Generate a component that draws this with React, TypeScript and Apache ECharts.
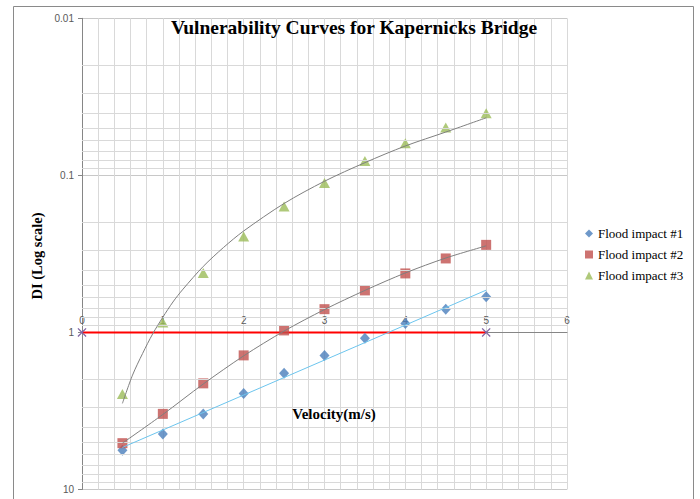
import React, { useEffect, useRef } from "react";
import * as echarts from "echarts";

const velocity = [0.5, 1, 1.5, 2, 2.5, 3, 3.5, 4, 4.5, 5];
const impact1 = [5.62, 4.44, 3.31, 2.45, 1.82, 1.4, 1.09, 0.877, 0.711, 0.593];
const impact2 = [5.07, 3.3, 2.11, 1.4, 0.971, 0.711, 0.54, 0.421, 0.338, 0.277];
const impact3 = [2.47, 0.864, 0.419, 0.245, 0.158, 0.112, 0.0811, 0.0625, 0.0495, 0.0403];

const trend1X = [0.5, 5];
const trend1Y = [5.4, 0.538];
const trend2X = [0.5, 1, 1.5, 2, 2.5, 3, 3.5, 4, 4.5, 5];
const trend2Y = [5.07, 3.33, 2.13, 1.41, 0.98, 0.715, 0.54, 0.418, 0.336, 0.281];
const trend3X = [0.5, 0.625, 0.75, 0.875, 1, 1.125, 1.25, 1.5, 1.75, 2, 2.5, 3, 3.5, 4, 4.5, 5];
const trend3Y = [2.83, 1.87, 1.36, 1.02, 0.8, 0.64, 0.53, 0.38, 0.288, 0.226, 0.151, 0.109, 0.083, 0.065, 0.053, 0.043];

const refX = [0, 5];
const refY = [1, 1];

const minorY = [
  0.02, 0.03, 0.04, 0.05, 0.06, 0.07, 0.08, 0.09,
  0.2, 0.3, 0.4, 0.5, 0.6, 0.7, 0.8, 0.9,
  2, 3, 4, 5, 6, 7, 8, 9,
];

const seriesNames = ["Flood impact #1", "Flood impact #2", "Flood impact #3"];

const zip = (xs: number[], ys: number[]) => xs.map((x, i) => [x, ys[i]]);

const X_PATH = "path://M0,1L1,0L5,4L9,0L10,1L6,5L10,9L9,10L5,6L1,10L0,9L4,5Z";

export default function App() {
  const ref = useRef<HTMLDivElement>(null);
  useEffect(() => {
    if (!ref.current) return;
    const chart = echarts.init(ref.current, null, { renderer: "svg" });
    const gridTop = 18.3;
    const gridBottom = 9.5;
    const gridH = 499 - gridTop - gridBottom;
    const serif = "Liberation Serif";
    const sans = "Liberation Sans";
    chart.setOption({
      animation: false,
      backgroundColor: "#ffffff",
      grid: { left: 82, right: 133, top: gridTop, bottom: gridBottom, containLabel: false },
      legend: {
        orient: "vertical",
        left: 580,
        top: 222,
        itemWidth: 8,
        itemHeight: 8,
        itemGap: 8,
        textStyle: { fontFamily: serif, fontSize: 13, color: "#000" },
        data: [
          { name: seriesNames[0], icon: "diamond" },
          { name: seriesNames[1], icon: "rect" },
          { name: seriesNames[2], icon: "triangle" },
        ],
      },
      xAxis: {
        type: "value",
        min: 0,
        max: 6,
        interval: 1,
        position: "top",
        offset: -(gridH * 2) / 3,
        axisLine: { show: true, lineStyle: { color: "#868686", width: 1 } },
        axisTick: { show: false },
        axisLabel: { color: "#595959", fontSize: 10, fontFamily: sans, margin: 7 },
        splitLine: { show: true, lineStyle: { color: "#d9d9d9", width: 1 } },
        minorTick: { show: false, splitNumber: 5 },
        minorSplitLine: { show: true, lineStyle: { color: "#d9d9d9", width: 1 } },
      },
      yAxis: {
        type: "log",
        logBase: 10,
        min: 0.01,
        max: 10,
        splitNumber: 3,
        inverse: true,
        axisLine: { show: true, lineStyle: { color: "#868686", width: 1 } },
        axisTick: { show: true, length: 4, lineStyle: { color: "#868686" } },
        axisLabel: {
          color: "#595959",
          fontSize: 10,
          fontFamily: sans,
          margin: 8,
          formatter: (v: number) => String(Number(v.toPrecision(3))),
        },
        splitLine: { show: true, lineStyle: { color: "#c8c8c8", width: 1 } },
      },
      graphic: [
        {
          type: "rect",
          shape: { x: 13.5, y: 6.5, width: 680, height: 520 },
          style: { fill: "none", stroke: "#8a8a8a", lineWidth: 1 },
          silent: true,
          z: -10,
        },
        {
          type: "text",
          x: 354,
          y: 27,
          style: {
            text: "Vulnerability Curves for Kapernicks Bridge",
            font: `bold 19.5px "${serif}"`,
            fill: "#000",
            align: "center",
            verticalAlign: "middle",
          },
          z: 10,
        },
        {
          type: "text",
          x: 334,
          y: 414,
          style: {
            text: "Velocity(m/s)",
            font: `bold 15px "${serif}"`,
            fill: "#000",
            align: "center",
            verticalAlign: "middle",
          },
          z: 10,
        },
        {
          type: "text",
          x: 37,
          y: 256,
          rotation: Math.PI / 2,
          style: {
            text: "DI (Log scale)",
            font: `bold 14.5px "${serif}"`,
            fill: "#000",
            align: "center",
            verticalAlign: "middle",
          },
          z: 10,
        },
      ],
      series: [
        {
          name: "minor-grid",
          type: "line",
          data: [[0, 1]],
          symbol: "none",
          lineStyle: { opacity: 0 },
          silent: true,
          z: 0,
          markLine: {
            silent: true,
            symbol: ["none", "none"],
            label: { show: false },
            lineStyle: { color: "#d9d9d9", width: 1, type: "solid" },
            emphasis: { disabled: true },
            data: minorY.map((v) => ({ yAxis: v })),
          },
        },
        {
          name: "reference",
          type: "line",
          data: zip(refX, refY),
          symbol: X_PATH,
          symbolSize: 9,
          itemStyle: { color: "#8064a2" },
          lineStyle: { color: "#ff0000", width: 2 },
          z: 3,
        },
        {
          name: seriesNames[0],
          type: "scatter",
          data: zip(velocity, impact1),
          symbol: "diamond",
          symbolSize: [10, 11],
          itemStyle: { color: "#4a7ebb" },
          z: 4,
        },
        {
          name: seriesNames[1],
          type: "scatter",
          data: zip(velocity, impact2),
          symbol: "rect",
          symbolSize: 10,
          itemStyle: { color: "#c0504d" },
          z: 4,
        },
        {
          name: seriesNames[2],
          type: "scatter",
          data: zip(velocity, impact3),
          symbol: "triangle",
          symbolSize: [11, 10],
          itemStyle: { color: "#9bbb59" },
          z: 4,
        },
        {
          name: "trend1",
          type: "line",
          data: zip(trend1X, trend1Y),
          symbol: "none",
          lineStyle: { color: "#6cc5ee", width: 1 },
          z: 5,
        },
        {
          name: "trend2",
          type: "line",
          data: zip(trend2X, trend2Y),
          symbol: "none",
          smooth: 0.3,
          lineStyle: { color: "#7f7f7f", width: 1 },
          z: 5,
        },
        {
          name: "trend3",
          type: "line",
          data: zip(trend3X, trend3Y),
          symbol: "none",
          smooth: 0.3,
          lineStyle: { color: "#7f7f7f", width: 1 },
          z: 5,
        },
      ],
    });
    return () => chart.dispose();
  }, []);
  return (
    <div
      ref={ref}
      style={{ position: "absolute", left: 0, top: 0, width: 700, height: 499 }}
    />
  );
}
